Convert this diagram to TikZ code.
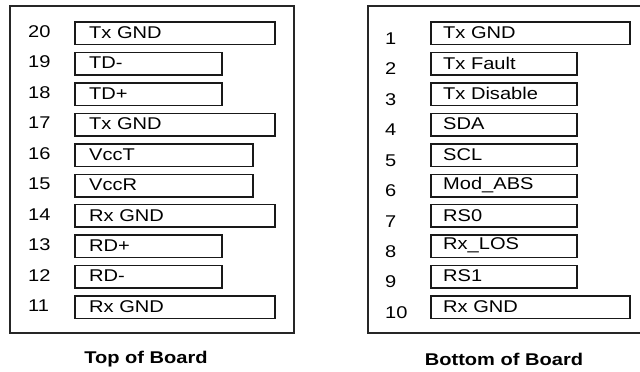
\documentclass[tikz,border=0pt]{standalone}
\usepackage{fontspec}
\setmainfont{Liberation Sans}[FakeStretch=1.18]
\begin{document}
\begin{tikzpicture}[x=1pt,y=-1pt,
    font=\fontsize{17}{20}\selectfont,
    pin/.style={line width=1.5pt,draw=black!90},
    frame/.style={line width=1.5pt,draw=black!85},
    lbl/.style={anchor=west,inner sep=0pt,text=black},
    num/.style={anchor=west,inner sep=0pt,text=black}]
    \useasboundingbox (0,0) rectangle (640,372);

    % top of board
    \draw[frame] (10,6) rectangle (294,333);
    \foreach \k/\n/\r/\t in {
        0/20/275/Tx GND,
        1/19/222/TD-,
        2/18/222/TD+,
        3/17/275/Tx GND,
        4/16/253/VccT,
        5/15/253/VccR,
        6/14/275/Rx GND,
        7/13/222/RD+,
        8/12/222/RD-,
        9/11/275/Rx GND}{
      \draw[pin] (75,{22+30.45*\k}) rectangle (\r,{44.5+30.45*\k});
      \node[lbl] (top\n) at (89,{32.5+30.45*\k}) {\t};
      \node[num] (ntop\n) at (28,{31.5+30.45*\k}) {\n};
    }
    \node[font=\fontsize{17}{20}\selectfont\bfseries] (toplbl) at (146,359) {Top of Board};

    % bottom of board
    \draw[frame] (648,6) -- (368,6) -- (368,333) -- (648,333);
    \foreach \k/\n/\r/\t in {
        0/1/630/Tx GND,
        1/2/577/Tx Fault,
        2/3/577/Tx Disable,
        3/4/577/SDA,
        4/5/577/SCL,
        5/6/577/Mod\_ABS,
        6/7/577/RS0,
        7/8/577/Rx\_LOS,
        8/9/577/RS1,
        9/10/630/Rx GND}{
      \draw[pin] (431,{22+30.45*\k}) rectangle (\r,{44.5+30.45*\k});
      \node[lbl] (bot\n) at (443,{32.5+30.45*\k}) {\t};
      \node[num] (nbot\n) at (385,{38.5+30.45*\k}) {\n};
    }
    \node[font=\fontsize{17}{20}\selectfont\bfseries] (botlbl) at (504,359) {Bottom of Board};
  \end{tikzpicture}
\end{document}
